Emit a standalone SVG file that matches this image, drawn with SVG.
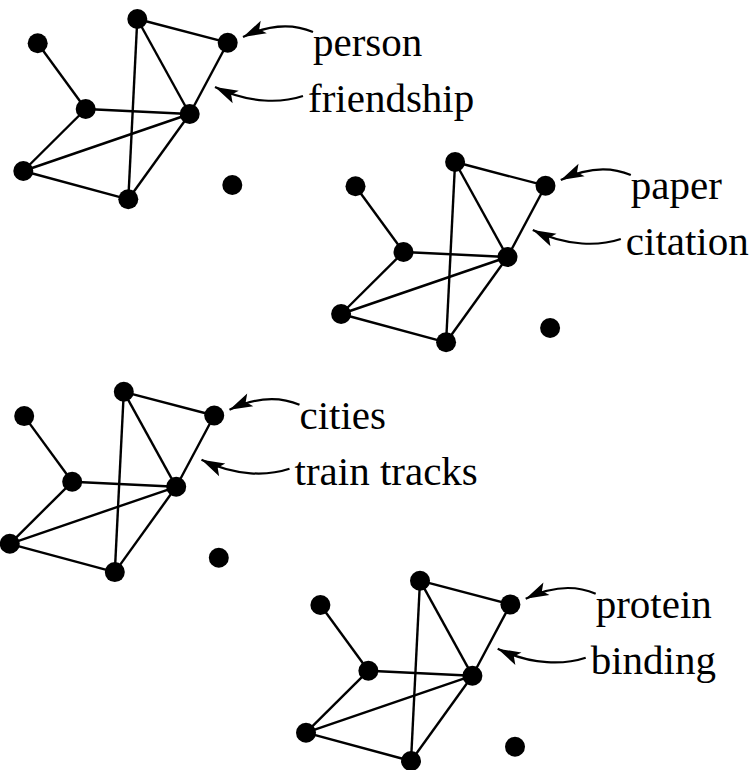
<svg xmlns="http://www.w3.org/2000/svg" width="753" height="770" viewBox="0 0 753 770">
<style>
.edge{stroke:#000;stroke-width:2.4;fill:none}
.arrow{stroke:#000;stroke-width:2.2;fill:none;marker-end:url(#ah)}
.node{fill:#000}
.lbl{font-family:"Liberation Serif","Times New Roman",serif;font-size:41px;fill:#000}
</style>
<defs>
<marker id="ah" markerUnits="userSpaceOnUse" markerWidth="26" markerHeight="16" refX="23" refY="8" orient="auto" overflow="visible">
<path d="M0,1 L23,8 L0,15 L5,8 Z" fill="#000"/>
</marker>
</defs>
<rect width="753" height="770" fill="#fff"/>

<g id="panel-person" transform="translate(0,0)">
<g id="p1-connectors">
<line class="edge" x1="37.7" y1="43.3" x2="85.7" y2="109"/>
<line class="edge" x1="137.3" y1="19" x2="227.7" y2="42.7"/>
<line class="edge" x1="137.3" y1="19" x2="128.3" y2="199.3"/>
<line class="edge" x1="137.3" y1="19" x2="189.7" y2="114"/>
<line class="edge" x1="227.7" y1="42.7" x2="189.7" y2="114"/>
<line class="edge" x1="85.7" y1="109" x2="189.7" y2="114"/>
<line class="edge" x1="85.7" y1="109" x2="23.3" y2="171"/>
<line class="edge" x1="23.3" y1="171" x2="189.7" y2="114"/>
<line class="edge" x1="23.3" y1="171" x2="128.3" y2="199.3"/>
<line class="edge" x1="128.3" y1="199.3" x2="189.7" y2="114"/>
<path class="arrow" d="M313,32 C292,23 268,25 243,37"/>
<path class="arrow" d="M303,96 C282,103 250,104 215,87"/>
</g>
<g id="p1-a"><circle class="node" cx="37.7" cy="43.3" r="10"/></g>
<g id="p1-b"><circle class="node" cx="137.3" cy="19" r="10"/></g>
<g id="p1-c"><circle class="node" cx="227.7" cy="42.7" r="10"/></g>
<g id="p1-d"><circle class="node" cx="85.7" cy="109" r="10"/></g>
<g id="p1-e"><circle class="node" cx="189.7" cy="114" r="10"/></g>
<g id="p1-f"><circle class="node" cx="23.3" cy="171" r="10"/></g>
<g id="p1-g"><circle class="node" cx="128.3" cy="199.3" r="10"/></g>
<g id="p1-h"><circle class="node" cx="232.3" cy="185" r="10"/></g>
<text class="lbl" x="313" y="56">person</text>
<text class="lbl" x="308" y="112">friendship</text>
</g>

<g id="panel-paper" transform="translate(317.8,143)">
<g id="p2-connectors">
<line class="edge" x1="37.7" y1="43.3" x2="85.7" y2="109"/>
<line class="edge" x1="137.3" y1="19" x2="227.7" y2="42.7"/>
<line class="edge" x1="137.3" y1="19" x2="128.3" y2="199.3"/>
<line class="edge" x1="137.3" y1="19" x2="189.7" y2="114"/>
<line class="edge" x1="227.7" y1="42.7" x2="189.7" y2="114"/>
<line class="edge" x1="85.7" y1="109" x2="189.7" y2="114"/>
<line class="edge" x1="85.7" y1="109" x2="23.3" y2="171"/>
<line class="edge" x1="23.3" y1="171" x2="189.7" y2="114"/>
<line class="edge" x1="23.3" y1="171" x2="128.3" y2="199.3"/>
<line class="edge" x1="128.3" y1="199.3" x2="189.7" y2="114"/>
<path class="arrow" d="M313,32 C292,23 268,25 243,37"/>
<path class="arrow" d="M303,96 C282,103 250,104 215,87"/>
</g>
<g id="p2-a"><circle class="node" cx="37.7" cy="43.3" r="10"/></g>
<g id="p2-b"><circle class="node" cx="137.3" cy="19" r="10"/></g>
<g id="p2-c"><circle class="node" cx="227.7" cy="42.7" r="10"/></g>
<g id="p2-d"><circle class="node" cx="85.7" cy="109" r="10"/></g>
<g id="p2-e"><circle class="node" cx="189.7" cy="114" r="10"/></g>
<g id="p2-f"><circle class="node" cx="23.3" cy="171" r="10"/></g>
<g id="p2-g"><circle class="node" cx="128.3" cy="199.3" r="10"/></g>
<g id="p2-h"><circle class="node" cx="232.3" cy="185" r="10"/></g>
<text class="lbl" x="313" y="56">paper</text>
<text class="lbl" x="308" y="112">citation</text>
</g>

<g id="panel-cities" transform="translate(-13.5,372.8)">
<g id="p3-connectors">
<line class="edge" x1="37.7" y1="43.3" x2="85.7" y2="109"/>
<line class="edge" x1="137.3" y1="19" x2="227.7" y2="42.7"/>
<line class="edge" x1="137.3" y1="19" x2="128.3" y2="199.3"/>
<line class="edge" x1="137.3" y1="19" x2="189.7" y2="114"/>
<line class="edge" x1="227.7" y1="42.7" x2="189.7" y2="114"/>
<line class="edge" x1="85.7" y1="109" x2="189.7" y2="114"/>
<line class="edge" x1="85.7" y1="109" x2="23.3" y2="171"/>
<line class="edge" x1="23.3" y1="171" x2="189.7" y2="114"/>
<line class="edge" x1="23.3" y1="171" x2="128.3" y2="199.3"/>
<line class="edge" x1="128.3" y1="199.3" x2="189.7" y2="114"/>
<path class="arrow" d="M313,32 C292,23 268,25 243,37"/>
<path class="arrow" d="M303,96 C282,103 250,104 215,87"/>
</g>
<g id="p3-a"><circle class="node" cx="37.7" cy="43.3" r="10"/></g>
<g id="p3-b"><circle class="node" cx="137.3" cy="19" r="10"/></g>
<g id="p3-c"><circle class="node" cx="227.7" cy="42.7" r="10"/></g>
<g id="p3-d"><circle class="node" cx="85.7" cy="109" r="10"/></g>
<g id="p3-e"><circle class="node" cx="189.7" cy="114" r="10"/></g>
<g id="p3-f"><circle class="node" cx="23.3" cy="171" r="10"/></g>
<g id="p3-g"><circle class="node" cx="128.3" cy="199.3" r="10"/></g>
<g id="p3-h"><circle class="node" cx="232.3" cy="185" r="10"/></g>
<text class="lbl" x="313" y="56">cities</text>
<text class="lbl" x="308" y="112">train tracks</text>
</g>

<g id="panel-protein" transform="translate(282.7,561.7)">
<g id="p4-connectors">
<line class="edge" x1="37.7" y1="43.3" x2="85.7" y2="109"/>
<line class="edge" x1="137.3" y1="19" x2="227.7" y2="42.7"/>
<line class="edge" x1="137.3" y1="19" x2="128.3" y2="199.3"/>
<line class="edge" x1="137.3" y1="19" x2="189.7" y2="114"/>
<line class="edge" x1="227.7" y1="42.7" x2="189.7" y2="114"/>
<line class="edge" x1="85.7" y1="109" x2="189.7" y2="114"/>
<line class="edge" x1="85.7" y1="109" x2="23.3" y2="171"/>
<line class="edge" x1="23.3" y1="171" x2="189.7" y2="114"/>
<line class="edge" x1="23.3" y1="171" x2="128.3" y2="199.3"/>
<line class="edge" x1="128.3" y1="199.3" x2="189.7" y2="114"/>
<path class="arrow" d="M313,32 C292,23 268,25 243,37"/>
<path class="arrow" d="M303,96 C282,103 250,104 215,87"/>
</g>
<g id="p4-a"><circle class="node" cx="37.7" cy="43.3" r="10"/></g>
<g id="p4-b"><circle class="node" cx="137.3" cy="19" r="10"/></g>
<g id="p4-c"><circle class="node" cx="227.7" cy="42.7" r="10"/></g>
<g id="p4-d"><circle class="node" cx="85.7" cy="109" r="10"/></g>
<g id="p4-e"><circle class="node" cx="189.7" cy="114" r="10"/></g>
<g id="p4-f"><circle class="node" cx="23.3" cy="171" r="10"/></g>
<g id="p4-g"><circle class="node" cx="128.3" cy="199.3" r="10"/></g>
<g id="p4-h"><circle class="node" cx="232.3" cy="185" r="10"/></g>
<text class="lbl" x="313" y="56">protein</text>
<text class="lbl" x="308" y="112">binding</text>
</g>
</svg>
